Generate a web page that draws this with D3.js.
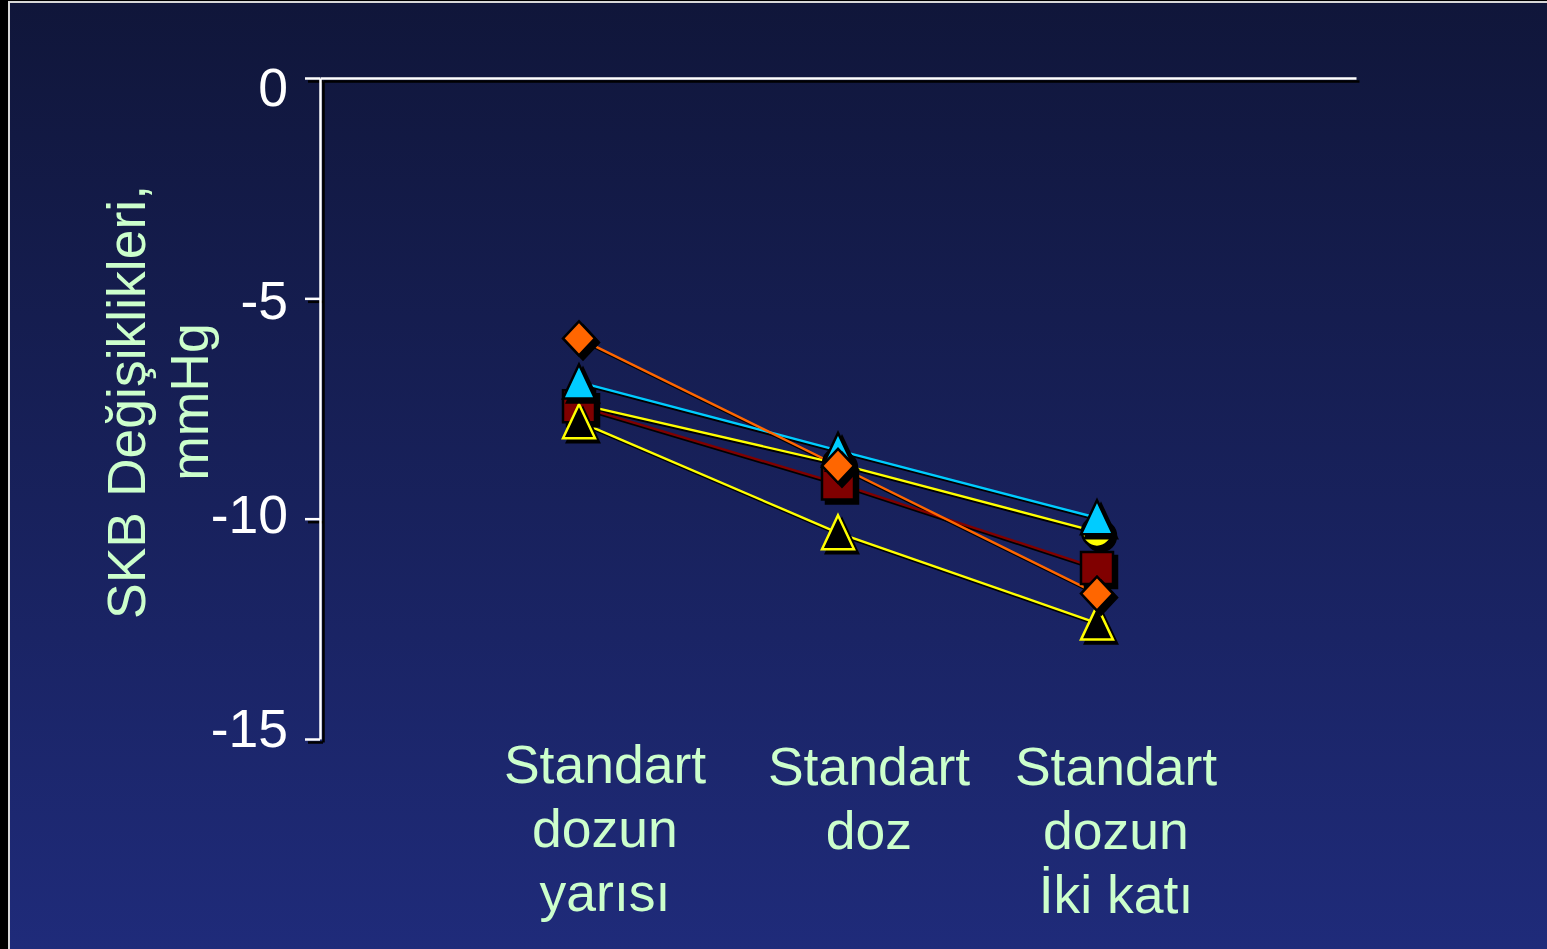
<!DOCTYPE html>
<html>
<head>
<meta charset="utf-8">
<script src="https://cdn.jsdelivr.net/npm/d3@7"></script>
<style>
html,body{margin:0;padding:0;background:#000;overflow:hidden;}
svg{display:block;}
</style>
</head>
<body>
<svg id="chart" width="1547" height="949"></svg>
<script>
// ---- data ----
const categories = [
  ["Standart", "dozun", "yarısı"],
  ["Standart", "doz"],
  ["Standart", "dozun", "İki katı"]
];
const catIndex = [1, 2, 3];
const yTicks = [0, -5, -10, -15];
const yTickLabels = ["0", "-5", "-10", "-15"];
const yTitle = ["SKB Değişiklikleri,", "mmHg"];

const seriesCircle   = [-7.4, -8.75, -10.3];
const seriesSquare   = [-7.45, -9.2, -11.12];
const seriesBlackTri = [-7.8, -10.32, -12.37];
const seriesCyanTri  = [-6.9, -8.45, -9.98];
const seriesDiamond  = [-5.91, -8.8, -11.7];

const series = [
  {name: "circle",   values: seriesCircle,   line: "#ffff00", fill: "#ffff00", stroke: "#000", shape: "circle"},
  {name: "square",   values: seriesSquare,   line: "#800000", fill: "#800000", stroke: "#000", shape: "square"},
  {name: "blacktri", values: seriesBlackTri, line: "#ffff00", fill: "#000000", stroke: "#ffff00", shape: "triangle"},
  {name: "cyantri",  values: seriesCyanTri,  line: "#00ccff", fill: "#00ccff", stroke: "#000", shape: "triangle"},
  {name: "diamond",  values: seriesDiamond,  line: "#ff6600", fill: "#ff6600", stroke: "#000", shape: "diamond"}
];

// ---- setup ----
const W = 1547, H = 949;
const svg = d3.select("#chart");
const FONT = "'Liberation Sans', Arial, sans-serif";
const FS = 53.5;
const TXT = "#ccffcc";

const defs = svg.append("defs");
const grad = defs.append("linearGradient").attr("id", "bg").attr("x1", 0).attr("y1", 0).attr("x2", 0).attr("y2", 1);
grad.append("stop").attr("offset", "0%").attr("stop-color", "#10163a");
grad.append("stop").attr("offset", "100%").attr("stop-color", "#1f2b7a");

svg.append("rect").attr("x", 0).attr("y", 0).attr("width", W).attr("height", H).attr("fill", "#000");
svg.append("rect").attr("x", 10).attr("y", 3).attr("width", W - 10).attr("height", H - 3).attr("fill", "url(#bg)");
// frame lines
svg.append("line").attr("x1", 9).attr("x2", 9).attr("y1", 2).attr("y2", H).attr("stroke", "#d8d8d8").attr("stroke-width", 2);
svg.append("line").attr("x1", 8).attr("x2", W).attr("y1", 2).attr("y2", 2).attr("stroke", "#d8d8d8").attr("stroke-width", 2);

// ---- scales ----
const x = d3.scaleLinear().domain([0, 4]).range([320, 1356]);
const y = d3.scaleLinear().domain([0, -15]).range([78, 739]);
// tick-label baselines (labels in the source sit slightly off their ticks)
const yLab = d3.scaleLinear().domain([0, -15]).range([105, 746]);

// ---- axes (shadow then white) ----
function drawAxes(dx, dy, color, withText) {
  const gy = svg.append("g").attr("transform", `translate(${x(0) + dx},${dy})`);
  const ax = d3.axisLeft(y).tickValues(yTicks).tickSize(15).tickSizeOuter(0)
    .tickFormat((d, i) => withText ? yTickLabels[i] : "");
  gy.call(ax);
  gy.select(".domain").attr("stroke", color).attr("stroke-width", 2.5);
  gy.selectAll(".tick line").attr("stroke", color).attr("stroke-width", 2.5);
  const gx = svg.append("g").attr("transform", `translate(${dx},${y(0) + dy})`);
  gx.call(d3.axisTop(x).tickValues([]).tickSizeOuter(0));
  gx.select(".domain").attr("stroke", color).attr("stroke-width", 2.5);
  if (withText) {
    gy.selectAll(".tick text")
      .attr("fill", "#ffffff")
      .attr("font-family", FONT)
      .attr("font-size", FS)
      .attr("x", -32)
      .attr("dy", null)
      .attr("y", d => yLab(d) - y(d));
  }
}
drawAxes(3, 3, "#000", false);
drawAxes(0, 0, "#ffffff", true);

// ---- y title ----
const ty = 402;
[[145, yTitle[0]], [208, yTitle[1]]].forEach(([bx, t]) => {
  svg.append("text")
    .attr("transform", `translate(${bx},${ty}) rotate(-90)`)
    .attr("text-anchor", "middle")
    .attr("font-family", FONT).attr("font-size", FS)
    .attr("fill", TXT).text(t);
});

// ---- category labels ----
const labOffsetX = [26, 31, 19];
const labBase = [783, 785, 785];
categories.forEach((lines, i) => {
  const t = svg.append("text")
    .attr("text-anchor", "middle")
    .attr("font-family", FONT).attr("font-size", FS)
    .attr("fill", TXT);
  lines.forEach((s, j) => {
    t.append("tspan").attr("x", x(catIndex[i]) + labOffsetX[i]).attr("y", labBase[i] + j * 64).text(s);
  });
});

// ---- lines ----
const lineGen = (vals) => d3.line().x((d, i) => x(catIndex[i])).y(d => y(d))(vals);
const linesG = svg.append("g");
series.forEach(s => {
  linesG.append("path").attr("d", lineGen(s.values)).attr("fill", "none")
    .attr("stroke", "#000").attr("stroke-width", 2.5).attr("transform", "translate(2.5,2.5)");
});
series.forEach(s => {
  linesG.append("path").attr("d", lineGen(s.values)).attr("fill", "none")
    .attr("stroke", s.line).attr("stroke-width", 2.4);
});

// ---- markers ----
function shapePath(shape) {
  switch (shape) {
    case "diamond": return "M0,-17L16,0L0,17L-16,0Z";
    case "triangle": return "M0,-17.5L16,16.5L-16,16.5Z";
    case "square": return "M-16,-16L16,-16L16,16L-16,16Z";
    case "circle": return "M-15,0A15,15 0 1,0 15,0A15,15 0 1,0 -15,0Z";
  }
}
const markG = svg.append("g");
series.forEach(s => {
  s.values.forEach((v, i) => {
    const cx = x(catIndex[i]), cy = y(v);
    markG.append("path").attr("d", shapePath(s.shape))
      .attr("transform", `translate(${cx + 4},${cy + 4})`)
      .attr("fill", "#000").attr("stroke", "#000").attr("stroke-width", 2.5);
    markG.append("path").attr("d", shapePath(s.shape))
      .attr("transform", `translate(${cx},${cy})`)
      .attr("fill", s.fill).attr("stroke", s.stroke).attr("stroke-width", 2.5)
      .attr("stroke-linejoin", "miter");
  });
});
</script>
</body>
</html>
